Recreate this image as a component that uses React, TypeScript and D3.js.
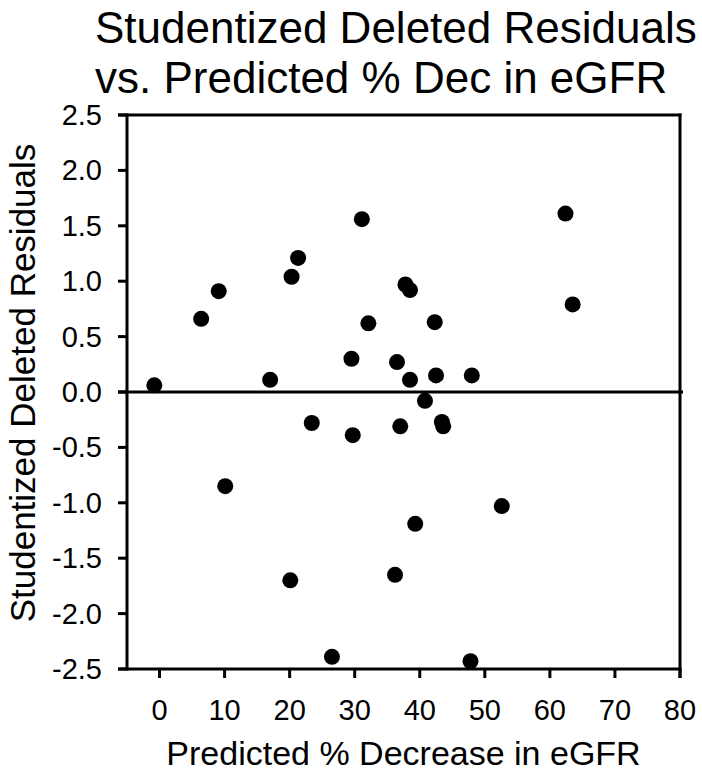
import React from "react";
import * as d3 from "d3";

const predicted: number[] = [
  -0.8, 6.4, 9.1, 10.1, 17.0, 20.3, 21.3, 20.1, 23.4, 26.5, 29.5, 29.7, 31.1,
  32.1, 36.5, 37.0, 36.2, 37.8, 38.5, 38.5, 39.3, 40.8, 42.3, 42.5, 43.4, 43.6,
  48.0, 47.8, 52.6, 62.4, 63.5,
];
const residuals: number[] = [
  0.06, 0.66, 0.91, -0.85, 0.11, 1.04, 1.21, -1.7, -0.28, -2.39, 0.3, -0.39,
  1.56, 0.62, 0.27, -0.31, -1.65, 0.97, 0.92, 0.11, -1.19, -0.08, 0.63, 0.15,
  -0.27, -0.31, 0.15, -2.43, -1.03, 1.61, 0.79,
];
const xTicks: number[] = [0, 10, 20, 30, 40, 50, 60, 70, 80];
const yTicks: number[] = [-2.5, -2.0, -1.5, -1.0, -0.5, 0.0, 0.5, 1.0, 1.5, 2.0, 2.5];
const titleLines: string[] = [
  "Studentized Deleted Residuals",
  "vs. Predicted % Dec in eGFR",
];
const xLabel = "Predicted % Decrease in eGFR";
const yLabel = "Studentized Deleted Residuals";

const W = 702;
const H = 772;
const L = 127;
const R = 680;
const T = 115;
const B = 669;
const FONT = "'Liberation Sans', Arial, Helvetica, sans-serif";

const fmtY = (v: number) => d3.format(".1f")(v).replace("\u2212", "-");

export default function App() {
  const x = d3.scaleLinear().domain([-5, 80]).range([L, R]);
  const y = d3.scaleLinear().domain([-2.5, 2.5]).range([B, T]);
  const sw = 3;
  const tick = 9;

  return (
    <svg
      width={W}
      height={H}
      style={{ position: "absolute", left: 0, top: 0, background: "#fff" }}
      fontFamily={FONT}
    >
      <rect x={0} y={0} width={W} height={H} fill="#fff" />
      {titleLines.map((t, i) => (
        <text key={i} x={95} y={43 + i * 50} fontSize={44} fill="#000">
          {t}
        </text>
      ))}

      {/* zero line */}
      <line x1={L - tick} x2={R + 3} y1={y(0)} y2={y(0)} stroke="#000" strokeWidth={sw} />

      {/* frame */}
      <line x1={L} x2={L} y1={T - 1.5} y2={B + 1.5} stroke="#000" strokeWidth={sw} />
      <line x1={R} x2={R} y1={T - 1.5} y2={B + tick} stroke="#000" strokeWidth={sw} />
      <line x1={L - tick} x2={R + 1.5} y1={T} y2={T} stroke="#000" strokeWidth={sw} />
      <line x1={L - tick} x2={R + 1.5} y1={B} y2={B} stroke="#000" strokeWidth={sw} />

      {/* y ticks */}
      {yTicks.map((v) => (
        <g key={"y" + v}>
          <line x1={L - tick} x2={L} y1={y(v)} y2={y(v)} stroke="#000" strokeWidth={sw} />
          <text
            x={L - 25}
            y={y(v)}
            fontSize={29}
            textAnchor="end"
            dominantBaseline="central"
            fill="#000"
          >
            {fmtY(v)}
          </text>
        </g>
      ))}

      {/* x ticks */}
      {xTicks.map((v) => (
        <g key={"x" + v}>
          <line x1={x(v)} x2={x(v)} y1={B} y2={B + tick} stroke="#000" strokeWidth={sw} />
          <text x={x(v)} y={720} fontSize={29} textAnchor="middle" fill="#000">
            {v}
          </text>
        </g>
      ))}

      {/* points */}
      {predicted.map((p, i) => (
        <circle key={i} cx={x(p)} cy={y(residuals[i])} r={8} fill="#000" />
      ))}

      <text x={(L + R) / 2} y={765} fontSize={34} textAnchor="middle" fill="#000">
        {xLabel}
      </text>
      <text
        transform={`translate(35, 383) rotate(-90)`}
        fontSize={35}
        textAnchor="middle"
        fill="#000"
      >
        {yLabel}
      </text>
    </svg>
  );
}
